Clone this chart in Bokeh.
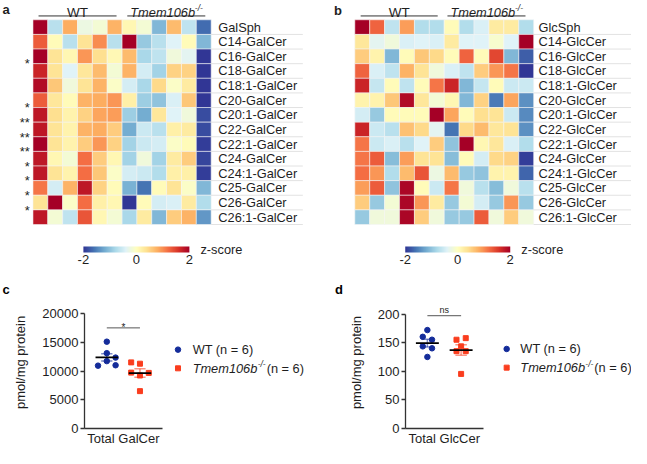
import numpy as np
from bokeh.plotting import figure
from bokeh.models import ColumnDataSource, LinearColorMapper, ColorBar, FixedTicker, Range1d
from bokeh.layouts import column, row
from bokeh.transform import transform
from bokeh.core.properties import value
from bokeh.embed import file_html
from bokeh.resources import INLINE

FONT = "Liberation Sans"

# ------------------------------------------------------------------ data
galcer_species = ["GalSph", "C14-GalCer", "C16-GalCer", "C18-GalCer", "C18:1-GalCer",
                  "C20-GalCer", "C20:1-GalCer", "C22-GalCer", "C22:1-GalCer", "C24-GalCer",
                  "C24:1-GalCer", "C25-GalCer", "C26-GalCer", "C26:1-GalCer"]
galcer_stars = ["", "", "*", "", "", "*", "**", "**", "**", "*", "*", "*", "*", ""]
glccer_species = ["GlcSph", "C14-GlcCer", "C16-GlcCer", "C18-GlcCer", "C18:1-GlcCer",
                  "C20-GlcCer", "C20:1-GlcCer", "C22-GlcCer", "C22:1-GlcCer", "C24-GlcCer",
                  "C24:1-GlcCer", "C25-GlcCer", "C26-GlcCer", "C26:1-GlcCer"]
glccer_stars = [""] * 14

# z-scores, rows = species, columns = 6 WT then 6 Tmem106b-/- samples
galcer_z = [
    [2.0, -0.7, 0.8, -0.25, -0.15, 0.75, 0.1, -0.15, -1.1, 0.7, -0.65, -1.65],
    [1.3, 0.05, -0.7, 0.35, 1.0, -0.7, 2.0, -0.95, -0.7, -0.4, 0.05, -1.1],
    [2.0, 0.35, 0.1, 0.95, 0.4, 0.08, 0.7, -0.8, -0.65, -0.2, -0.35, -2.0],
    [1.7, 0.35, -0.4, 0.3, 0.7, -0.15, 0.75, -0.5, -0.85, 0.5, 0.5, -2.0],
    [1.9, 0.6, -0.2, 0.35, 0.75, -0.05, -0.5, -0.8, 0.45, -0.05, 0.25, -2.0],
    [1.3, 0.3, 0.05, 0.75, 0.8, 0.95, 0.2, -0.9, -1.0, -0.45, 0.6, -2.0],
    [1.8, 0.4, 0.15, 0.5, 0.85, 0.9, -0.9, -1.2, 0.3, -0.4, -0.2, -1.85],
    [1.8, 0.35, 0.15, 0.75, 0.8, 0.55, -1.2, -0.55, -0.7, 0.2, 0.25, -1.85],
    [2.0, 0.35, 0.15, 0.55, 0.95, 0.5, -0.85, -0.55, -0.5, -0.05, 0.05, -1.95],
    [1.8, 0.1, -0.15, 1.2, 0.55, 0.1, -0.85, -0.2, -0.85, 0.25, 0.55, -1.9],
    [1.8, 0.35, 0.15, 1.2, 0.6, -0.05, -0.5, -0.55, -0.75, 0.2, 0.2, -1.95],
    [1.15, -0.5, 0.75, 1.8, 0.5, 0.05, -1.15, -1.6, 0.05, 0.35, -0.05, -1.1],
    [0.35, 2.0, -0.05, 1.2, 0.2, 0.1, -2.0, 0.05, -0.5, -0.45, 0.25, -0.75],
    [1.8, -0.15, -0.65, 1.35, 0.1, -0.15, -0.8, 0.25, -1.1, 0.55, 0.75, -1.35],
]
glccer_z = [
    [2.0, 1.25, -0.65, 0.9, -0.75, -0.75, 0.05, -0.75, -0.45, 0.25, 0.25, -0.75],
    [0.3, -0.35, -0.2, -0.45, -0.4, -0.45, 0.25, -0.4, -0.4, -0.1, -0.4, 2.0],
    [0.55, 0.15, -1.1, 0.05, 0.6, 0.45, 0.05, 1.25, 0.05, 1.45, -1.1, -1.75],
    [1.25, -0.45, -0.65, 0.75, 0.35, -0.2, -0.45, -0.65, 0.55, 0.95, 1.15, -2.0],
    [1.7, -0.6, 0.05, -0.65, 0.05, 1.15, 1.7, -1.1, -0.6, 0.05, -0.55, -0.55],
    [0.15, 0.15, 0.6, 1.9, 0.3, -0.15, 0.1, -1.1, 0.5, -1.55, 0.85, -1.4],
    [-0.5, -0.95, 0.05, 0.05, 0.05, 2.0, 0.85, 0.05, 0.4, 0.35, -0.55, -1.45],
    [1.7, -0.55, -0.7, 0.65, 0.45, -0.35, -1.6, 0.45, 0.7, 0.3, 0.35, -1.4],
    [1.15, -0.55, -0.45, -0.7, -0.4, 0.55, -1.0, 2.0, 0.1, 0.3, -0.45, -0.75],
    [1.15, 1.3, -1.05, 0.9, 0.35, 0.35, -1.05, 0.05, -0.5, 0.45, 0.5, -1.95],
    [1.2, 0.95, -0.75, 0.7, 1.35, -0.25, 0.7, -0.95, -1.0, 0.15, 0.15, -1.7],
    [0.9, 1.3, -1.0, 1.95, 0.05, -0.55, 1.15, -0.2, -0.7, -1.05, -0.2, -0.7],
    [0.55, -0.95, -0.15, 1.95, 0.95, 0.25, -0.95, -0.15, -0.5, -0.95, 0.95, -0.95],
    [-0.95, -0.2, -0.2, 1.95, 0.55, -0.2, -0.95, -0.95, 1.3, -0.2, 0.55, -0.2],
]
zscore_ticks = [-2, 0, 2]
zscore_tick_labels = {-2: "-2", 0: "0", 2: "2"}

total_galcer_wt = [15100, 13100, 12330, 11720, 10930, 11000]
total_galcer_ko = [11500, 11270, 9720, 9670, 9220, 6500]
galcer_jitter_wt = [0, 0, 0.265, 0, -0.265, 0.265]
galcer_jitter_ko = [-0.265, 0, -0.265, 0.265, 0, 0]

total_glccer_wt = [172.2, 160.4, 155.3, 143.7, 140.3, 125.2]
total_glccer_ko = [155.3, 158.1, 143.7, 135.3, 135.3, 95.5]
glccer_jitter_wt = [0, -0.137, 0.137, -0.137, 0.137, 0]
glccer_jitter_ko = [-0.137, 0.137, 0, -0.137, 0.137, 0]

WT_C = "#142c9a"
KO_C = "#fa3d1e"
TXT = "#1e1e1e"
FS = "12.8px"

# layout scale: reference pixels -> page pixels
SX = 631 / 647
SY = 448 / 464
W_LEFT, W_RIGHT = 315, 316
H_TOP, H_BOT = 266, 182

# ------------------------------------------------------------------ palette
anchors = ['#313695', '#4575b4', '#74add1', '#abd9e9', '#e0f3f8', '#ffffbf',
           '#fee090', '#fdae61', '#f46d43', '#d73027', '#a50026']


def interp_palette(hexes, n=256):
    rgb = np.array([[int(h[k:k + 2], 16) for k in (1, 3, 5)] for h in hexes], float)
    out = []
    for v in np.linspace(0, len(hexes) - 1, n):
        i = min(int(v), len(hexes) - 2)
        f = v - i
        c = rgb[i] * (1 - f) + rgb[i + 1] * f
        out.append('#%02x%02x%02x' % tuple(int(round(x)) for x in c))
    return out


mapper = LinearColorMapper(palette=interp_palette(anchors), low=-2, high=2)


def txt(p, x, y, t, size=FS, style="normal", align="left", baseline="alphabetic", **kw):
    p.text(x=list(x), y=list(y), text=list(t), text_align=align, text_baseline=baseline,
           text_font=value(FONT), text_font_size=size, text_font_style=style, text_color=TXT, **kw)


# ------------------------------------------------------------------ heatmaps
def heatmap(z, names, stars, width, ox, hm_l, hm_r, lab_x, sep_end, letter, letter_x, letter_base,
            wt_line, ko_line, cb_l, cb_r, zs_x):
    L = lambda rx: rx * SX - ox
    T = lambda ry: ry * SY
    nrow, ncol = len(names), len(z[0])
    hl, ht = L(hm_l), T(20)
    cw = (L(hm_r) - hl) / ncol
    rh = (T(232) - ht) / nrow
    X = lambda rx: (L(rx) - hl) / cw
    Y = lambda ry: (T(ry) - ht) / rh
    p = figure(width=width, height=H_TOP, x_range=Range1d(-hl / cw, (width - hl) / cw),
               y_range=Range1d((H_TOP - ht) / rh, -ht / rh), output_backend="svg",
               toolbar_location=None, min_border=0, x_axis_location=None,
               y_axis_location=None, outline_line_color=None)
    p.grid.visible = False
    src = ColumnDataSource(dict(
        x=[j + 0.5 for i in range(nrow) for j in range(ncol)],
        y=[i + 0.5 for i in range(nrow) for j in range(ncol)],
        z=[z[i][j] for i in range(nrow) for j in range(ncol)]))
    p.rect(x='x', y='y', width=1, height=1, source=src, fill_color=transform('z', mapper),
           line_color="#f4f4f4", line_width=0.8, line_alpha=0.7)
    rows = np.arange(nrow)
    p.segment(x0=[ncol] * nrow, x1=[X(sep_end)] * nrow, y0=rows + 1, y1=rows + 1,
              line_color="#e2e2e2", line_width=1)
    txt(p, [X(lab_x)] * nrow, rows + 0.5, names, baseline="middle")
    txt(p, [X(30)] * nrow, rows + 1.02, stars, align="right")
    # group headers
    yl = Y(16)
    p.segment(x0=[X(wt_line[0]), X(ko_line[0])], x1=[X(wt_line[1]), X(ko_line[1])],
              y0=[yl, yl], y1=[yl, yl], line_color="#333333", line_width=1)
    yt = Y(12.7)
    txt(p, [X(sum(wt_line) / 2)], [yt], ["WT"], size="13.5px", align="center")
    kc = X(sum(ko_line) / 2)
    txt(p, [kc], [yt], ["Tmem106b"], style="italic", x_offset=-36)
    txt(p, [kc], [yt], ["-/-"], size="8.5px", style="italic", x_offset=28.5, y_offset=-5)
    txt(p, [X(letter_x)], [Y(letter_base)], [letter], size="13px", style="bold")
    cb = ColorBar(color_mapper=mapper, orientation="horizontal", location=(L(cb_l), 0),
                  width=int(round((cb_r - cb_l) * SX)), height=6, padding=0, margin=0,
                  ticker=FixedTicker(ticks=zscore_ticks), major_label_overrides=zscore_tick_labels,
                  major_label_text_font=FONT, major_label_text_font_size="13px",
                  major_label_text_color=TXT, major_tick_line_color=None,
                  minor_tick_line_color=None, bar_line_color=None,
                  background_fill_alpha=0, label_standoff=2)
    p.add_layout(cb, "center")
    txt(p, [X(zs_x)], [Y(257.5)], ["z-score"])
    return p


pa = heatmap(galcer_z, galcer_species, galcer_stars, W_LEFT, 0, 33.3, 216, 223.3, 310,
             "a", 2, 9, (39, 119), (130, 210), 85, 194, 205)
pb = heatmap(glccer_z, glccer_species, glccer_stars, W_RIGHT, W_LEFT, 363.3, 546.7, 551.7, 647,
             "b", 342, 10.5, (369.3, 448.3), (458.3, 538.3), 415, 523, 534)

# ------------------------------------------------------------------ scatter panels
MB_BOTTOM = 19
MB_TOP = 30
FB = H_BOT - MB_BOTTOM   # frame bottom (local px) = value 0


def scatter(wt, ko, jw, jk, ymax, ystep, xlabel, sig_text, sig_ref, sig_size, sig_off,
            width, ox, axis_x, wt_x, ko_x, axis_end, y0_ref, ytop_ref,
            letter, letter_x, leg_x, leg_tx):
    L = lambda rx: rx * SX - ox
    unit = L(ko_x) - L(wt_x)
    pxf = (y0_ref - ytop_ref) * SY
    X = lambda rx: 1 + (L(rx) - L(wt_x)) / unit
    Y = lambda ry: (y0_ref - ry) * SY / pxf * ymax
    left = int(round(L(axis_x)))
    xr0 = 1 + (left - L(wt_x)) / unit
    xr1 = 1 + (width - L(wt_x)) / unit
    p = figure(width=width, height=H_BOT, x_range=Range1d(xr0, xr1),
               y_range=Range1d(0, (FB - MB_TOP) / pxf * ymax),
               output_backend="svg", toolbar_location=None, title=letter,
               min_border_left=left, min_border_right=0, min_border_top=MB_TOP,
               min_border_bottom=MB_BOTTOM, outline_line_color=None)
    p.title.text_font = FONT
    p.title.text_font_size = "13px"
    p.title.text_font_style = "bold"
    p.title.text_color = "black"
    p.title.align = "left"
    p.title.offset = L(letter_x) - left
    p.title.standoff = 0
    p.grid.visible = False
    for ax in (p.xaxis, p.yaxis):
        ax.axis_line_color = "#333333"
        ax.axis_line_width = 1.3
        ax.major_tick_line_color = "#333333"
        ax.major_tick_line_width = 1.3
        ax.minor_tick_line_color = None
        ax.major_label_text_font = FONT
        ax.major_label_text_font_size = "13px"
        ax.major_label_text_color = TXT
    p.yaxis.bounds = (0, ymax)
    p.yaxis.ticker = FixedTicker(ticks=list(range(0, ymax + 1, ystep)))
    p.yaxis.major_tick_out = 4
    p.yaxis.major_tick_in = 0
    p.yaxis.major_label_standoff = 2
    p.yaxis.axis_label = "pmol/mg protein"
    p.yaxis.axis_label_text_font = FONT
    p.yaxis.axis_label_text_font_style = "normal"
    p.yaxis.axis_label_text_font_size = "13px"
    p.yaxis.axis_label_text_color = TXT
    p.yaxis.axis_label_standoff = 11
    p.xaxis.bounds = (xr0, X(axis_end))
    p.xaxis.ticker = FixedTicker(ticks=[1.5])
    p.xaxis.major_label_overrides = {1.5: xlabel}
    p.xaxis.major_tick_out = 0
    p.xaxis.major_tick_in = 0
    p.xaxis.major_label_standoff = 2

    for vals, jit, cx, col, mk, sz in ((wt, jw, 1, WT_C, "circle", 5.5), (ko, jk, 2, KO_C, "square", 5)):
        v = np.array(vals, float)
        m = v.mean()
        s = v.std(ddof=1) / np.sqrt(len(v))
        p.segment(x0=[cx, cx - 0.17, cx - 0.17], x1=[cx, cx + 0.17, cx + 0.17],
                  y0=[m - s, m - s, m + s], y1=[m + s, m - s, m + s],
                  line_color=col, line_alpha=0.55, line_width=1.5)
        p.scatter(x=cx + np.array(jit), y=v, marker=mk, size=sz, color=col)
        p.segment(x0=[cx - 0.34], x1=[cx + 0.34], y0=[m], y1=[m], line_color="black", line_width=1.8)

    sy = Y(sig_ref)
    p.segment(x0=[1], x1=[2], y0=[sy], y1=[sy], line_color="#555555", line_width=1)
    txt(p, [1.5], [sy], [sig_text], size=sig_size, align="center", y_offset=sig_off)

    # legend
    y1, y2 = Y(362), Y(381.5)
    p.scatter(x=[X(leg_x)], y=[y1], marker="circle", size=5.5, color=WT_C)
    p.scatter(x=[X(leg_x)], y=[y2], marker="square", size=5, color=KO_C)
    tx = X(leg_tx)
    txt(p, [tx], [y1], ["WT (n = 6)"], baseline="middle")
    txt(p, [tx], [y2], ["Tmem106b"], style="italic", baseline="middle")
    txt(p, [tx], [y2], ["-/-"], size="8.5px", style="italic", baseline="middle", x_offset=65, y_offset=-4)
    txt(p, [tx], [y2], [" (n = 6)"], baseline="middle", x_offset=74)
    return p


pc = scatter(total_galcer_wt, total_galcer_ko, galcer_jitter_wt, galcer_jitter_ko, 20000, 5000,
             "Total GalCer", "*", 339.3, "10px", 0, W_LEFT, 0, 86, 109, 143, 166, 444.3, 324.3,
             "c", 2, 182, 197)
pd_ = scatter(total_glccer_wt, total_glccer_ko, glccer_jitter_wt, glccer_jitter_ko, 200, 50,
              "Total GlcCer", "ns", 327.3, "9px", -6, W_RIGHT, W_LEFT, 415, 437.7, 472.3, 495,
              445, 325.7, "d", 343, 519, 533)

layout = column(row(pa, pb), row(pc, pd_))
open("out.html", "w").write(file_html(layout, INLINE))
